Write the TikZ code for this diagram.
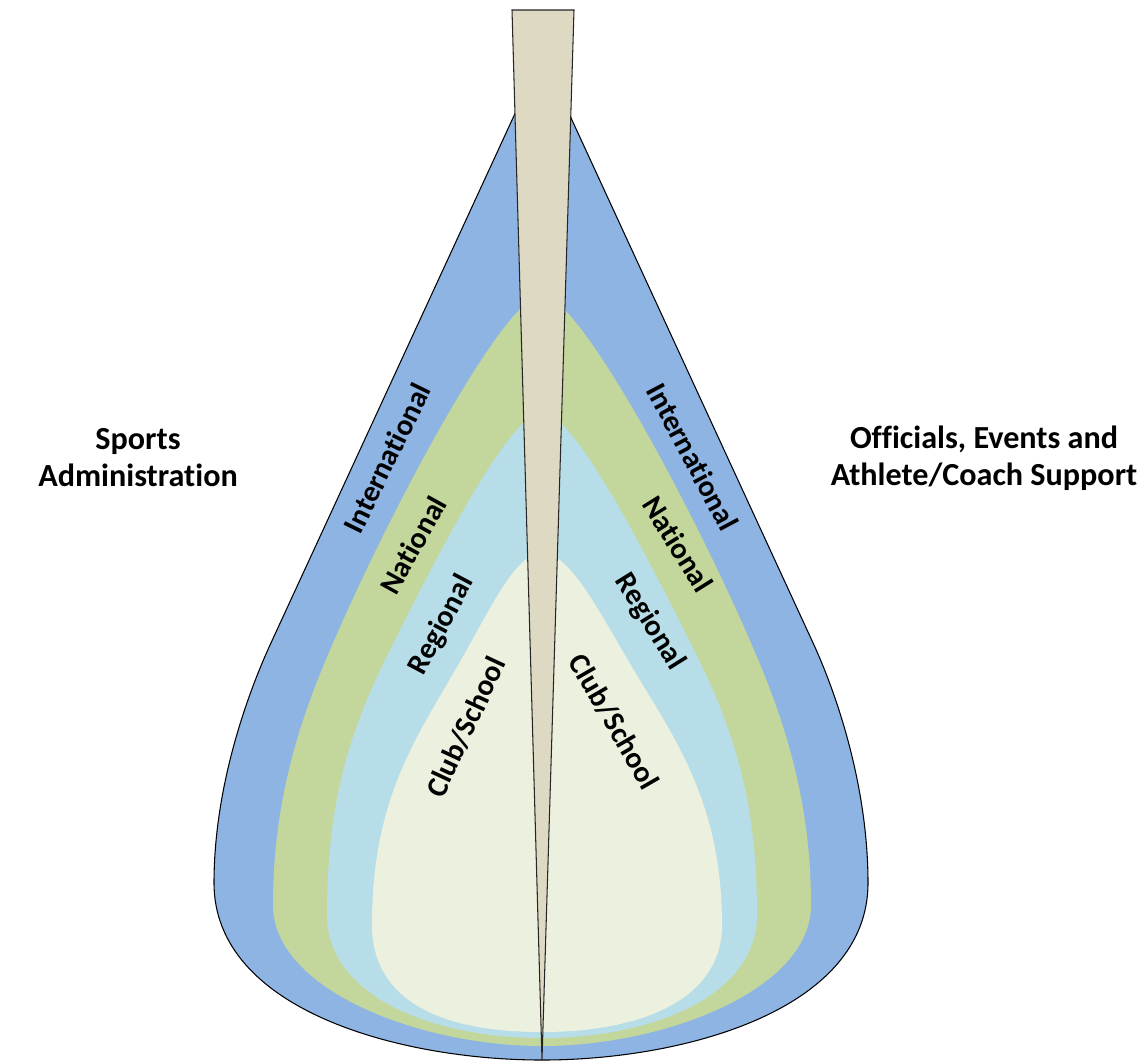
\documentclass[tikz,border=0pt]{standalone}
\usepackage{fontspec}
\setmainfont{Carlito}[Ligatures=NoCommon]
\definecolor{cBlue}{HTML}{8EB4E3}
\definecolor{cGreen}{HTML}{C3D69B}
\definecolor{cLBlue}{HTML}{B7DEE8}
\definecolor{cCream}{HTML}{EBF1DE}
\definecolor{cNeedle}{HTML}{DDD9C3}
\begin{document}
\begin{tikzpicture}[x=0.02cm,y=-0.02cm,
  outline/.style={draw=black,line width=0.6pt},
  needlestyle/.style={draw=black!85,line width=0.6pt,fill=cNeedle,line join=miter},
  lbl/.style={font=\bfseries\fontsize{17}{20}\selectfont,inner sep=0pt},
  side/.style={font=\bfseries\fontsize{18.3}{21}\selectfont,align=center,inner sep=0pt}]
\useasboundingbox[fill=white] (0,0) rectangle (1145,1063);
% outer layer
\draw[outline,fill=cBlue] (542,55) -- (270,645) .. controls (245,700) and (214,790) .. (214,883)
  .. controls (214,1010) and (400,1060) .. (542,1060)
  .. controls (684,1060) and (868,1010) .. (868,883)
  .. controls (868,790) and (839,700) .. (814,645) -- cycle;
% national
\fill[cGreen] (542,295) .. controls (505,295) and (390,510) .. (330,650)
  .. controls (300,720) and (273,800) .. (273,905)
  .. controls (273,990) and (420,1046) .. (542,1046)
  .. controls (664,1046) and (811,990) .. (811,905)
  .. controls (811,800) and (784,720) .. (754,650)
  .. controls (694,510) and (579,295) .. (542,295) -- cycle;
% regional
\fill[cLBlue] (542,412) .. controls (510,412) and (435,560) .. (390,650)
  .. controls (350,730) and (327,800) .. (327,915)
  .. controls (327,995) and (430,1038) .. (542,1038)
  .. controls (654,1038) and (757,995) .. (757,915)
  .. controls (757,800) and (734,730) .. (694,650)
  .. controls (649,560) and (574,412) .. (542,412) -- cycle;
% club/school
\fill[cCream] (542,553) .. controls (515,553) and (490,610) .. (457,667)
  .. controls (415,740) and (372,800) .. (372,925)
  .. controls (372,1000) and (440,1032) .. (542,1032)
  .. controls (640,1032) and (722,1000) .. (722,925)
  .. controls (722,800) and (672,735) .. (632,667)
  .. controls (598,610) and (570,553) .. (542,553) -- cycle;
% labels
\node[lbl,rotate=64] (intL) at (387,458) {International};
\node[lbl,rotate=-62] (intR) at (693,457) {International};
\node[lbl,rotate=61] (natL) at (413,545) {National};
\node[lbl,rotate=-58] (natR) at (678,544) {National};
\node[lbl,rotate=62] (regL) at (442,625) {Regional};
\node[lbl,rotate=-58] (regR) at (650,622) {Regional};
\node[lbl,rotate=65] (clubL) at (466,727) {Club/School};
\node[lbl,rotate=-60] (clubR) at (614,722) {Club/School};
\node[side] (admin) at (138,458) {Sports\\Administration};
\node[side] (off) at (984,458) {Officials, Events and\\Athlete/Coach Support};
% needle
\draw[needlestyle] (512,10) -- (574,10) -- (542,1060) -- cycle;
\end{tikzpicture}
\end{document}
